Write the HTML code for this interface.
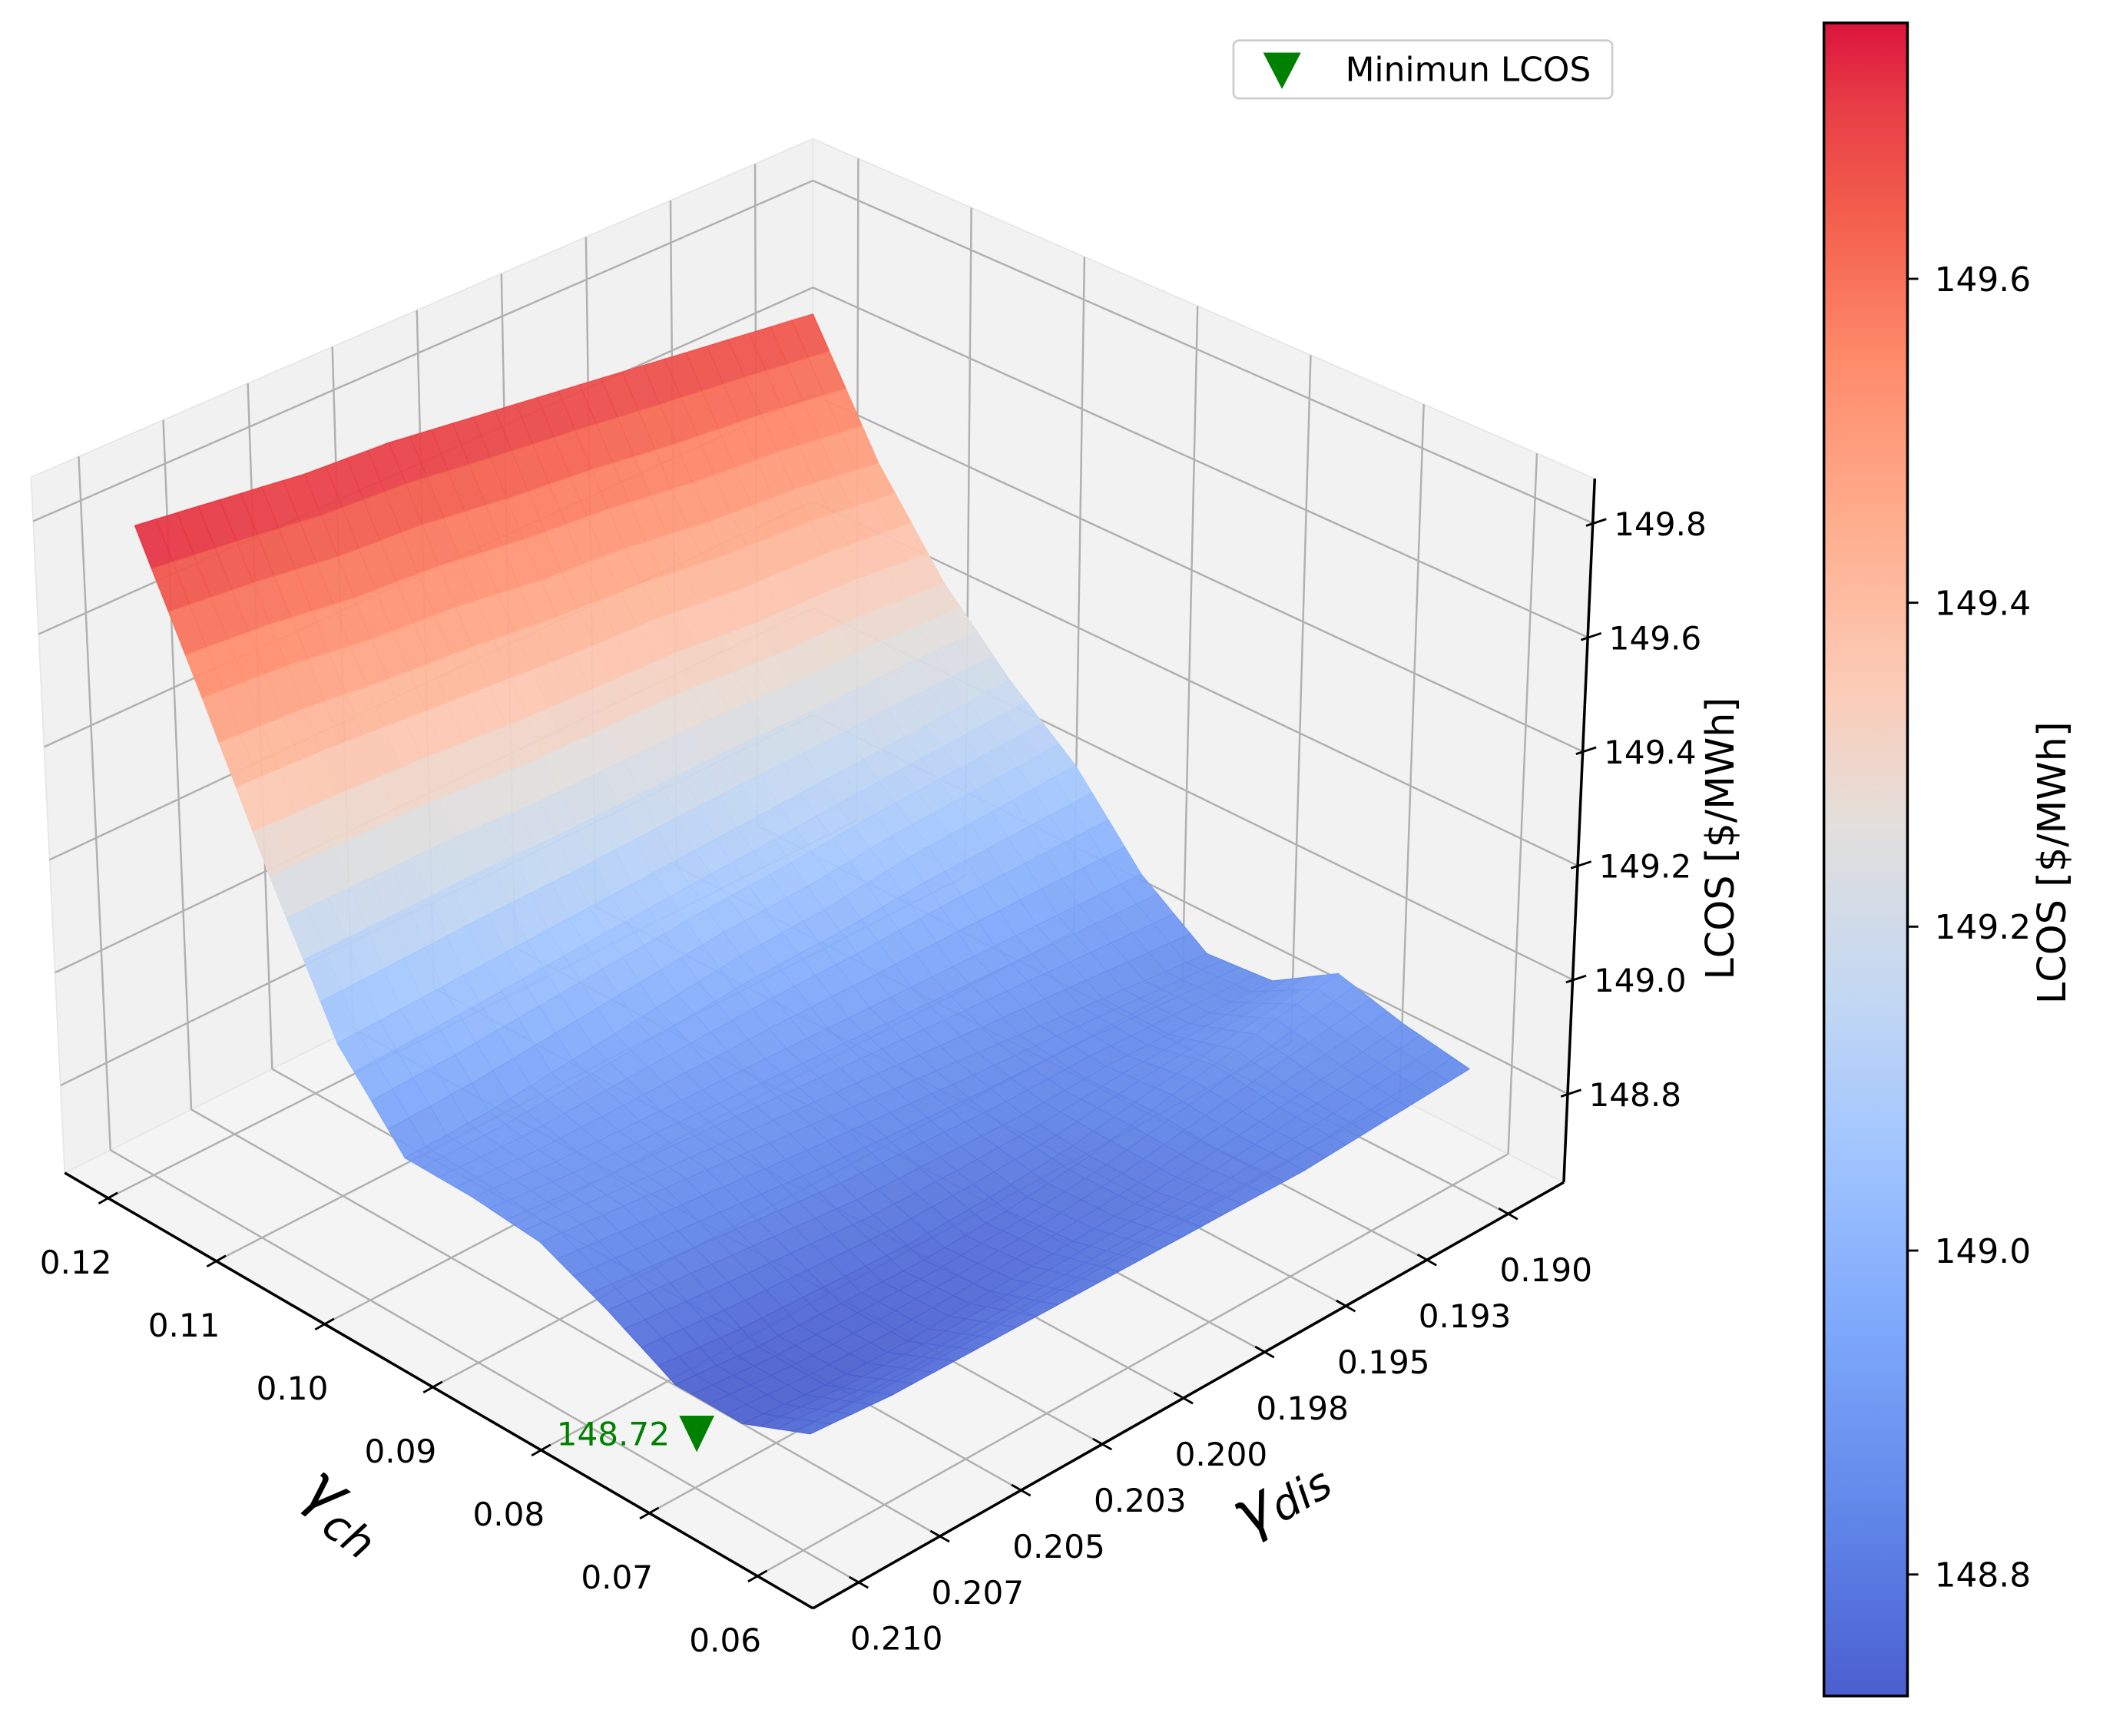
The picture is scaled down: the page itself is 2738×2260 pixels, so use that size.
<!DOCTYPE html>
<html><head><meta charset="utf-8">
<style>
html,body{margin:0;padding:0;background:#fff;}
svg{display:block;font-family:"DejaVu Sans","Liberation Sans",sans-serif;}
</style></head>
<body>
<svg id="chart" xmlns="http://www.w3.org/2000/svg" width="2738" height="2260" viewBox="0 0 1560 1287.7">
  <g id="panes"></g>
  <g id="grid"></g>
  <g id="surface"></g>
  <g id="axes"></g>
  <g id="labels"></g>
  <g id="marker"></g>
  <text transform="translate(222,1110) rotate(36)" font-size="46" font-style="italic">γ<tspan font-size="32" dy="12">ch</tspan></text>
  <text transform="translate(925,1140) rotate(-30)" font-size="46" font-style="italic">γ<tspan font-size="32" dy="4">dis</tspan></text>
  <text transform="translate(1286,622) rotate(-90)" font-size="29" text-anchor="middle">LCOS [$/MWh]</text>
  <g id="legend">
    <rect x="915" y="30" width="281" height="43" rx="4" fill="#fff" stroke="#cccccc" stroke-width="1.5"/>
    <path d="M937,39 L965,39 L951,66 Z" fill="#008000"/>
    <text x="998" y="60" font-size="25">Minimun LCOS</text>
  </g>
  <g id="colorbar"></g>
  <text transform="translate(1532,640) rotate(-90)" font-size="29" text-anchor="middle">LCOS [$/MWh]</text>
</svg>
<script>
// ---- data ----
const gch = [0.065,0.070,0.075,0.080,0.085,0.090,0.095,0.100,0.105,0.110,0.115];
const gdis = [0.190,0.1925,0.195,0.1975,0.200,0.2025,0.205,0.2075,0.210];
const lcos = [
 [148.85,148.83,148.81,148.80,148.79,148.78,148.77,148.76,148.76],
 [148.88,148.85,148.82,148.79,148.77,148.75,148.73,148.72,148.72],
 [148.92,148.88,148.84,148.80,148.77,148.75,148.74,148.73,148.73],
 [148.86,148.85,148.84,148.82,148.81,148.80,148.80,148.80,148.80],
 [148.86,148.86,148.86,148.86,148.86,148.86,148.86,148.86,148.86],
 [148.95,148.94,148.93,148.92,148.91,148.90,148.89,148.88,148.88],
 [149.09,149.07,149.05,149.02,149.00,148.97,148.94,148.91,148.89],
 [149.19,149.17,149.15,149.13,149.11,149.09,149.07,149.05,149.03],
 [149.31,149.31,149.30,149.30,149.29,149.28,149.28,149.27,149.26],
 [149.47,149.48,149.48,149.49,149.49,149.50,149.50,149.51,149.51],
 [149.68,149.69,149.70,149.71,149.72,149.73,149.73,149.74,149.75]
];
const xTicks = [0.12,0.11,0.10,0.09,0.08,0.07,0.06];
const xTickLabels = ["0.12","0.11","0.10","0.09","0.08","0.07","0.06"];
const yTicks = [0.190,0.1925,0.195,0.1975,0.200,0.2025,0.205,0.2075,0.210];
const yTickLabels = ["0.190","0.193","0.195","0.198","0.200","0.203","0.205","0.207","0.210"];
const zTicks = [148.8,149.0,149.2,149.4,149.6,149.8];
const zTickLabels = ["148.8","149.0","149.2","149.4","149.6","149.8"];
const cbTicks = [148.8,149.0,149.2,149.4,149.6];
const cbTickLabels = ["148.8","149.0","149.2","149.4","149.6"];
const minGch = 0.0734;
const minGdis = 0.210;
const minLcos = 148.72;
const minLabel = "148.72";

// ---- geometry ----
const NS = "http://www.w3.org/2000/svg";
const F=[603,1193], L=[48,870], R=[1160,877], B=[603,592];
const TF=[603,633], TL=[23,354], TR=[1183,355], TB=[603,103];
function bil(p00,p10,p01,p11,u,v){
  return [p00[0]*(1-u)*(1-v)+p10[0]*u*(1-v)+p01[0]*(1-u)*v+p11[0]*u*v,
          p00[1]*(1-u)*(1-v)+p10[1]*u*(1-v)+p01[1]*(1-u)*v+p11[1]*u*v];
}
function boxP(u,v,w){
  const a=bil(F,L,R,B,u,v), b=bil(TF,TL,TR,TB,u,v);
  return [a[0]+(b[0]-a[0])*w, a[1]+(b[1]-a[1])*w];
}
const xU = g => 0.074 + (g-0.06)/0.06*0.868;
const yV = g => 0.061 + (0.21-g)/0.02*0.865;
const zW = z => (z-148.645)/1.233;
const SF=[601,1113], SL=[100,865], SR=[1090,881], SB=[603,678], K=430, Z0=148.645;
const gchLo=0.065, gchHi=0.115, gdLo=0.19, gdHi=0.21;
const sOf = g => (g-gchLo)/(gchHi-gchLo);
const tOf = g => (gdHi-g)/(gdHi-gdLo);
function surfP(s,t,z){ const b=bil(SF,SL,SR,SB,s,t); return [b[0], b[1]-K*(z-Z0)]; }

const cmStops=[[0,[74,95,207]],[0.10,[95,132,232]],[0.22,[126,168,251]],[0.33,[162,198,255]],[0.42,[196,216,242]],[0.52,[226,223,220]],[0.60,[252,204,184]],[0.70,[255,174,142]],[0.80,[255,138,106]],[0.88,[244,97,78]],[0.95,[232,62,70]],[1,[220,20,60]]];
const cMin=148.725, cMax=149.758;
function cmap(z){
  let f=Math.max(0,Math.min(1,(z-cMin)/(cMax-cMin)));
  for(let k=1;k<cmStops.length;k++){
    if(f<=cmStops[k][0]){
      const a=cmStops[k-1], b=cmStops[k], r=(f-a[0])/(b[0]-a[0]);
      const c=a[1].map((x,i)=>Math.round(x+(b[1][i]-x)*r));
      return `rgb(${c[0]},${c[1]},${c[2]})`;
    }
  }
  return "rgb(220,20,60)";
}
function mk(tag, parent, attrs){
  const e=document.createElementNS(NS,tag);
  for(const k in attrs) e.setAttribute(k, attrs[k]);
  parent.appendChild(e); return e;
}
const pts = arr => arr.map(p=>p[0].toFixed(1)+","+p[1].toFixed(1)).join(" ");

const panes=document.getElementById('panes');
let e;
e=mk('polygon',panes,{points:pts([F,L,B,R]),fill:'#f4f4f4',stroke:'#e6e6e6'});


e=mk('polygon',panes,{points:pts([L,B,TB,TL]),fill:'#f1f1f1',stroke:'#e6e6e6'});


e=mk('polygon',panes,{points:pts([R,B,TB,TR]),fill:'#f2f2f2',stroke:'#e6e6e6'});



const grid=document.getElementById('grid');
function gl(a,b,name){
  const l=mk('line',grid,{x1:a[0],y1:a[1],x2:b[0],y2:b[1],stroke:'#b0b0b0','stroke-width':1.4});
  
  
}
yTicks.forEach(g=>{ const v=yV(g);
  gl(boxP(1,v,0),boxP(1,v,1),'left-pane-gridline');
  gl(boxP(0,v,0),boxP(1,v,0),'floor-gridline'); });
xTicks.forEach(g=>{ const u=xU(g); if(u<0||u>1) return;
  gl(boxP(u,1,0),boxP(u,1,1),'right-pane-gridline');
  gl(boxP(u,0,0),boxP(u,1,0),'floor-gridline'); });
zTicks.forEach(z=>{ const w=zW(z);
  gl(boxP(1,0,w),boxP(1,1,w),'left-pane-gridline');
  gl(boxP(0,1,w),boxP(1,1,w),'right-pane-gridline'); });

const surf=document.getElementById('surface');
const SUB=4, quads=[];
for(let i=0;i<gch.length-1;i++){
  for(let j=0;j<gdis.length-1;j++){
    const z00=lcos[i][j], z10=lcos[i+1][j], z01=lcos[i][j+1], z11=lcos[i+1][j+1];
    const s0=sOf(gch[i]), s1=sOf(gch[i+1]), t0=tOf(gdis[j]), t1=tOf(gdis[j+1]);
    for(let a=0;a<SUB;a++) for(let b=0;b<SUB;b++){
      const cor=[[a,b],[a+1,b],[a+1,b+1],[a,b+1]].map(([p,q])=>{
        const fu=p/SUB, fv=q/SUB;
        const z=z00*(1-fu)*(1-fv)+z10*fu*(1-fv)+z01*(1-fu)*fv+z11*fu*fv;
        const s=s0+(s1-s0)*fu, t=t0+(t1-t0)*fv;
        return {p:surfP(s,t,z),z:z,d:s+t};
      });
      const zm=(cor[0].z+cor[1].z+cor[2].z+cor[3].z)/4;
      const dm=(cor[0].d+cor[1].d+cor[2].d+cor[3].d)/4;
      quads.push({pp:cor.map(c=>c.p),z:zm,d:dm});
    }
  }
}
quads.sort((a,b)=>b.d-a.d);
quads.forEach(q=>{
  const c=cmap(q.z);
  const p=mk('polygon',surf,{points:pts(q.pp),fill:c,stroke:c,'stroke-width':0.7,'fill-opacity':0.93});
  
  
});

const axes=document.getElementById('axes');
const labs=document.getElementById('labels');
function line(par,a,b,w,name){
  const l=mk('line',par,{x1:a[0],y1:a[1],x2:b[0],y2:b[1],stroke:'#000','stroke-width':w});
  
  
}
line(axes,[48,870],F,2,'x-axis-line');
line(axes,F,R,2,'y-axis-line');
line(axes,R,TR,2,'z-axis-line');
function txt(x,y,s,size,anchor,name,fill){
  const t=mk('text',labs,{x:x,y:y,'font-size':size,'text-anchor':anchor,fill:fill||'#000'});
  t.textContent=s;
  
  
  return t;
}
xTicks.forEach((g,k)=>{
  const p=boxP(xU(g),0,0);
  line(axes,[p[0]-7,p[1]+4],[p[0]+7,p[1]-4],1.6,'x-tick');
  txt(p[0]-24,p[1]+56,xTickLabels[k],24,'middle','x-tick-label');
});
yTicks.forEach((g,k)=>{
  const p=boxP(0,yV(g),0);
  line(axes,[p[0]-7,p[1]-4],[p[0]+7,p[1]+4],1.6,'y-tick');
  txt(p[0]+28,p[1]+50,yTickLabels[k],24,'middle','y-tick-label');
});
zTicks.forEach((z,k)=>{
  const p=boxP(0,1,zW(z));
  line(axes,[p[0]-5,p[1]+2],[p[0]+10,p[1]-3],1.6,'z-tick');
  txt(p[0]+50,p[1]+9,zTickLabels[k],24,'middle','z-tick-label');
});

const mg=document.getElementById('marker');
const mp=surfP(sOf(minGch),tOf(minGdis),minLcos);
const cx=mp[0], cy=mp[1]+24;
e=mk('path',mg,{d:`M${cx-13},${cy-13} L${cx+13},${cy-13} L${cx},${cy+14} Z`,fill:'#008000'});


e=mk('text',mg,{x:cx-20,y:cy+9,'font-size':24,'text-anchor':'end',fill:'#008000'});
e.textContent=minLabel;



const cb=document.getElementById('colorbar');
const cbX=1353, cbW=62, cbTop=17, cbBot=1258;
const cbY = z => cbBot - (z-cMin)/(cMax-cMin)*(cbBot-cbTop);
const defs=mk('defs',cb,{});
const grad=mk('linearGradient',defs,{id:'cbg',x1:0,y1:1,x2:0,y2:0});
cmStops.forEach(s=>{
  const c=s[1];
  mk('stop',grad,{offset:s[0],'stop-color':`rgb(${c[0]},${c[1]},${c[2]})`});
});
e=mk('rect',cb,{x:cbX,y:cbTop,width:cbW,height:cbBot-cbTop,fill:'url(#cbg)',stroke:'#000','stroke-width':2});


cbTicks.forEach((z,k)=>{
  const y=cbY(z);
  const l=mk('line',cb,{x1:cbX+cbW,y1:y,x2:cbX+cbW+8,y2:y,stroke:'#000','stroke-width':1.6});
  
  
  const t=mk('text',cb,{x:cbX+cbW+20,y:y+9,'font-size':25});
  t.textContent=cbTickLabels[k];
  
  
});
</script>
</body></html>
